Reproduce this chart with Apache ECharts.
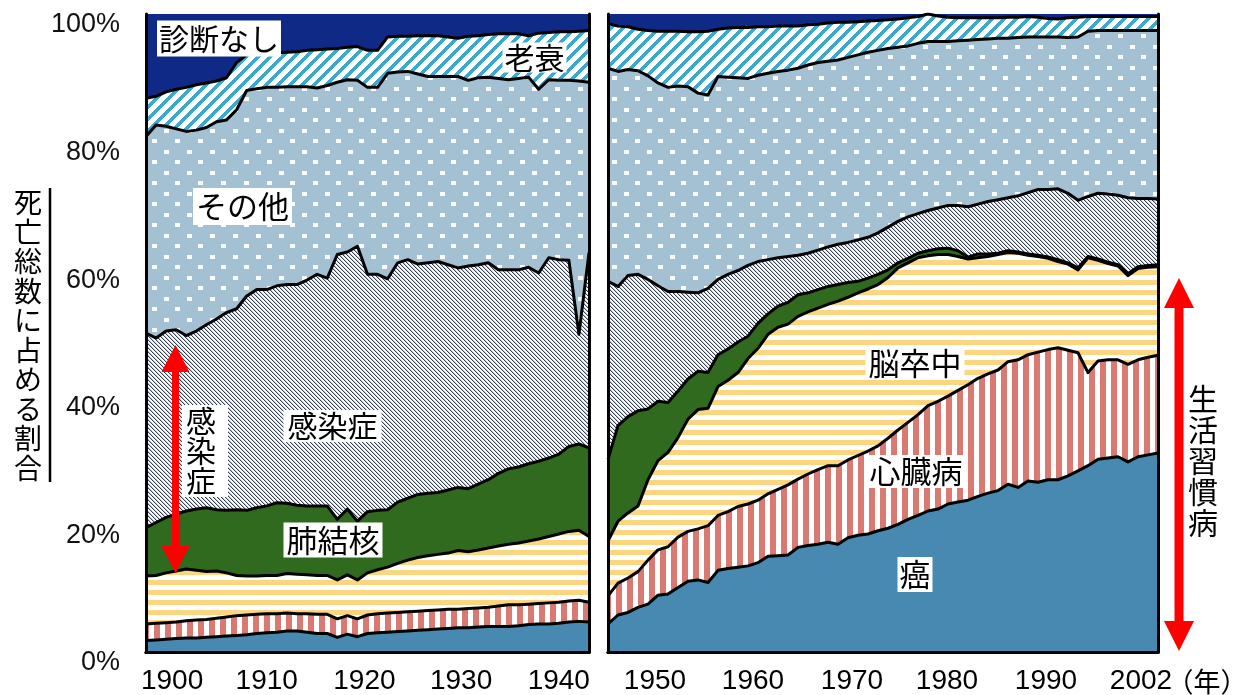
<!DOCTYPE html>
<html><head><meta charset="utf-8">
<script src="https://cdn.jsdelivr.net/npm/echarts@6/dist/echarts.min.js"></script>
<style>html,body{margin:0;padding:0;background:#fff}#c{width:1241px;height:695px}</style>
</head><body><div id="c"></div>
<script>
// ---- data: cumulative upper edge of each band (% of all deaths) ----
const leftYears = [1899,1900,1901,1902,1903,1904,1905,1906,1907,1908,1909,1910,1911,1912,1913,1914,1915,1916,1917,1918,1919,1920,1921,1922,1923,1924,1925,1926,1927,1928,1929,1930,1931,1932,1933,1934,1935,1936,1937,1938,1939,1940,1941,1942,1943];
const rightYears = [1947,1948,1949,1950,1951,1952,1953,1954,1955,1956,1957,1958,1959,1960,1961,1962,1963,1964,1965,1966,1967,1968,1969,1970,1971,1972,1973,1974,1975,1976,1977,1978,1979,1980,1981,1982,1983,1984,1985,1986,1987,1988,1989,1990,1991,1992,1993,1994,1995,1996,1997,1998,1999,2000,2001,2002];

const leftCancer = [1.8,1.9,2.0,2.1,2.2, 2.2,2.3,2.4,2.5,2.6, 2.7,2.9,3.0,3.1,3.3, 3.3,3.1,2.9,2.9,2.3, 2.8,2.4,2.9,3.0,3.1, 3.2,3.3,3.4,3.5,3.6, 3.7,3.8,3.8,3.9,4.0, 4.0,4.0,4.1,4.3,4.4, 4.4,4.5,4.7,4.8,4.7];
const leftHeart = [4.4,4.5,4.6,4.7,4.9, 5.0,5.1,5.3,5.5,5.7, 5.8,5.9,6.0,6.0,6.1, 6.0,6.0,5.9,5.9,5.2, 5.7,5.2,5.8,6.0,6.1, 6.2,6.3,6.4,6.5,6.6, 6.7,6.7,6.8,6.9,7.0, 7.2,7.4,7.4,7.5,7.6, 7.7,7.8,8.0,8.1,7.8];
const leftStroke = [11.9,12.0,12.4,12.7,13.0, 12.8,12.6,12.7,12.4,12.0, 11.9,11.9,12.0,12.0,12.3, 12.2,12.1,12.0,12.0,11.3, 12.1,11.3,12.4,12.9,13.3, 13.9,14.4,14.8,15.1,15.3, 15.5,15.9,15.7,16.0,16.3, 16.6,16.9,17.1,17.4,17.7, 18.1,18.5,18.9,19.1,18.1];
const leftTB = [19.5,20.3,21.1,21.6,22.1, 22.4,22.6,22.3,22.2,22.3, 22.2,22.6,22.9,23.4,23.3, 23.0,22.9,22.9,22.9,20.8, 22.4,20.5,22.0,22.2,22.3, 23.5,24.1,24.7,24.9,25.0, 25.4,25.8,25.6,26.3,27.0, 28.0,28.7,29.0,29.5,29.9, 30.4,31.0,32.2,32.6,32.0];
const leftInfect = [50.0,49.2,50.3,50.5,49.6, 50.3,51.3,52.2,53.2,53.8, 55.8,56.8,56.8,57.4,57.6, 57.6,58.3,59.2,58.6,62.3, 62.7,63.6,59.2,59.2,58.5, 61.0,61.5,60.8,61.0,61.2, 60.7,60.2,60.5,60.7,61.0, 59.9,59.9,59.9,60.3,59.4, 61.8,61.5,61.4,49.8,62.6];
const leftOther = [80.8,82.6,82.4,82.0,81.6, 81.8,82.2,83.1,83.4,85.0, 88.0,88.3,88.5,88.5,88.6, 88.6,88.6,88.4,88.8,89.3, 89.7,89.6,88.5,88.5,90.7, 90.9,91.0,90.6,90.2,90.2, 90.2,90.2,89.6,90.0,90.1, 89.9,89.7,89.9,90.1,88.2, 89.7,89.6,89.6,89.5,89.3];
const leftSenility = [86.8,87.1,87.8,88.2,88.5, 88.9,89.2,89.5,90.0,92.4, 93.6,93.8,93.9,93.9,94.0, 94.1,94.3,94.4,94.5,94.6, 94.8,94.9,94.3,94.3,96.4, 96.5,96.5,96.6,96.6,96.6, 96.4,96.2,96.5,96.6,96.8, 96.9,96.9,96.9,96.6,97.0, 97.1,97.2,97.2,97.3,97.4];

const rightCancer = [4.4,5.8,6.2,7.0,7.5, 8.9,9.1,10.1,11.1,11.3, 10.9,12.8,13.1,13.3,13.5, 14.0,15.0,15.1,15.2,16.4, 16.7,16.9,17.2,16.9,17.9, 18.3,18.5,19.0,19.4,20.0, 20.8,21.4,22.1,22.4,23.2, 23.5,23.8,24.4,24.9,25.3, 26.3,25.8,26.8,26.6,27.0, 27.0,27.6,28.4,29.2,30.2, 30.4,30.6,29.8,30.6,30.9, 31.2];
const rightHeart = [8.8,10.8,11.6,12.6,14.4, 16.0,16.5,18.0,18.9,19.3, 19.8,21.4,22.0,22.8,23.2, 23.8,24.8,25.5,26.2,27.1, 27.9,28.6,29.2,29.2,30.1, 30.8,31.5,32.3,33.5,34.8, 36.0,37.2,38.6,39.3,40.1, 41.0,41.9,42.9,43.6,44.2, 45.5,45.8,46.6,47.0,47.4, 47.7,47.3,46.9,43.8,45.6, 45.8,45.8,45.1,45.8,46.2, 46.5];
const rightStroke = [17.4,20.5,21.8,22.9,27.0, 30.0,31.3,33.6,36.5,38.0, 38.2,41.6,42.6,43.8,46.0, 47.6,49.8,50.9,51.4,52.6, 53.3,53.9,54.5,55.0,55.6, 56.3,56.9,57.6,58.7,60.2, 61.0,61.8,62.1,62.3,62.3, 62.0,61.6,61.8,62.0,62.3, 62.6,62.5,62.2,62.0,61.7, 61.2,60.8,59.9,61.8,61.4, 60.9,60.5,59.0,60.1,60.3, 60.4];
const rightTB = [30.2,35.5,36.9,37.8,38.1, 39.3,39.1,40.9,42.8,44.0, 43.8,46.6,47.5,48.6,49.5, 51.5,53.0,54.2,54.8,56.0, 56.3,56.8,57.3,57.6,57.9, 58.1,58.6,59.2,59.9,61.0, 61.7,62.5,62.9,63.2,63.3, 62.9,61.9,62.4,62.4,62.5, 62.9,62.7,62.4,62.2,61.9, 61.5,61.0,60.2,62.0,61.6, 61.1,60.7,59.3,60.4,60.6, 60.7];
const rightInfect = [58.1,57.3,59.0,59.2,58.4, 57.4,56.5,56.5,56.4,56.3, 57.0,58.4,59.2,59.8,60.6, 61.2,61.5,61.8,62.0,62.2, 62.5,63.0,63.5,63.9,64.2, 64.6,65.0,65.7,66.6,67.5, 68.2,68.7,69.2,69.6,70.0, 70.0,69.8,70.2,70.6,70.9, 71.2,71.5,72.0,72.5,72.5, 72.6,71.9,70.8,71.4,71.9, 71.8,71.6,71.2,71.1,71.1, 71.0];
const rightOther = [91.5,91.0,91.3,91.1,90.3, 89.2,88.5,88.7,88.6,87.6, 87.3,90.2,90.1,90.0,89.9, 90.4,90.7,91.0,91.2,91.5, 92.0,92.4,92.6,92.8,93.2, 93.6,94.0,94.3,94.6,94.8, 95.0,95.4,95.7,95.7,95.7, 95.8,95.9,96.0,96.1,96.2, 96.2,96.3,96.4,96.4,96.4, 96.4,96.3,96.4,97.3,97.4, 97.4,97.4,97.4,97.4,97.4, 97.4];
const rightSenility = [98.5,98.1,98.0,97.6,97.4, 97.3,97.3,97.3,97.2,97.2, 97.3,97.6,97.8,97.9,97.9, 98.0,98.0,98.1,98.1,98.1, 98.3,98.4,98.6,98.7,98.7, 98.8,98.9,99.0,99.1,99.2, 99.4,99.6,100,99.7,99.5, 99.4,99.4,99.4,99.4,99.4, 99.5,99.5,99.6,99.5,99.3, 99.2,99.4,99.5,99.6,99.6, 99.6,99.6,99.6,99.6,99.6, 99.6];

const leftTicks = [1900,1910,1920,1930,1940];
const rightTicks = [1950,1960,1970,1980,1990,2002];
const yTicks = [0,20,40,60,80,100];

// ---- patterns ----
function tile(w, h, fn) {
  const c = document.createElement('canvas'); c.width = w; c.height = h;
  const g = c.getContext('2d'); fn(g, w, h);
  return { image: c, repeat: 'repeat' };
}
const NAVY = '#0f2a86';
const fills = {
  senility: tile(12, 12, (g, w, h) => {
    g.fillStyle = '#fff'; g.fillRect(0, 0, w, h); g.fillStyle = '#3fa8cc';
    for (let y = 0; y < h; y++) for (let x = 0; x < w; x++) if ((x + y) % 12 < 5) g.fillRect(x, y, 1, 1);
  }),
  other: tile(23, 21, (g, w, h) => {
    g.fillStyle = '#a3c1d3'; g.fillRect(0, 0, w, h); g.fillStyle = '#fbfcfd';
    g.fillRect(3, 3, 5, 4); g.fillRect(14, 13, 5, 4);
  }),
  infect: tile(4, 4, (g, w, h) => {
    g.fillStyle = '#fff'; g.fillRect(0, 0, w, h);
    for (let y = 0; y < h; y++) for (let x = 0; x < w; x++) {
      const d = ((x - y) % 4 + 4) % 4;
      if (d === 0) { g.fillStyle = '#34405a'; g.fillRect(x, y, 1, 1); }
      else if (d === 1) { g.fillStyle = '#c4cad4'; g.fillRect(x, y, 1, 1); }
    }
  }),
  tb: '#2f6a1f',
  stroke: tile(4, 10, (g, w, h) => { g.fillStyle = '#fff'; g.fillRect(0, 0, w, h); g.fillStyle = '#fbd57f'; g.fillRect(0, 0, w, 5); }),
  heart: tile(11, 4, (g, w, h) => { g.fillStyle = '#fff'; g.fillRect(0, 0, w, h); g.fillStyle = '#d97a72'; g.fillRect(0, 0, 6, h); }),
  cancer: '#4789b0'
};

const bandDefs = [
  ['老衰', 'senility'], ['その他', 'other'], ['感染症', 'infect'], ['肺結核', 'tb'],
  ['脳卒中', 'stroke'], ['心臓病', 'heart'], ['癌', 'cancer']
];
const leftData = { senility: leftSenility, other: leftOther, infect: leftInfect, tb: leftTB, stroke: leftStroke, heart: leftHeart, cancer: leftCancer };
const rightData = { senility: rightSenility, other: rightOther, infect: rightInfect, tb: rightTB, stroke: rightStroke, heart: rightHeart, cancer: rightCancer };

function makeSeries(years, dataMap, axisIdx) {
  return bandDefs.map(([name, key], k) => ({
    type: 'line', name, xAxisIndex: axisIdx, yAxisIndex: axisIdx,
    data: years.map((y, i) => [y, dataMap[key][i]]),
    symbol: 'none', silent: true, z: 2 + k,
    lineStyle: { color: '#000', width: 3, join: 'round' },
    areaStyle: { color: fills[key], opacity: 1 }
  }));
}

// label shifts (styling only)
const xShift = { 1900: 16, 1910: 10, 1920: 7, 1930: 3, 1940: 0, 1950: 17, 1960: 15, 1970: 14, 1980: 9, 1990: 8, 2002: -17 };
const xRich = {};
Object.values(xShift).forEach(s => {
  const key = s >= 0 ? 'p' + s : 'n' + (-s);
  xRich[key] = { fontSize: 28, fontFamily: 'Liberation Sans, Arial', color: '#000',
    padding: s >= 0 ? [0, 0, 0, 2 * s] : [0, -2 * s, 0, 0] };
});
function xLabel(ticks) {
  return {
    show: true, customValues: ticks, margin: 15,
    fontSize: 28, fontFamily: 'Liberation Sans, Arial', color: '#000',
    formatter: v => { const s = xShift[v] || 0; return '{' + (s >= 0 ? 'p' + s : 'n' + (-s)) + '|' + v + '}'; },
    rich: xRich
  };
}
const frame = { show: true, lineStyle: { color: '#000', width: 3 } };
function xAx(grid, min, max, pos, ticks) {
  return { gridIndex: grid, type: 'value', min, max, position: pos, z: 50,
    axisLine: frame, axisTick: { show: false }, splitLine: { show: false },
    axisLabel: ticks ? xLabel(ticks) : { show: false } };
}
function yAx(grid, pos, labels) {
  return { gridIndex: grid, type: 'value', min: 0, max: 100, interval: 20, position: pos, z: 50,
    axisLine: frame, axisTick: { show: false }, splitLine: { show: false },
    axisLabel: labels ? { show: true, customValues: yTicks, formatter: '{value}%', fontSize: 27,
      fontFamily: 'Liberation Sans, Arial', color: '#111', margin: 26, verticalAlign: 'top', lineHeight: 22 } : { show: false } };
}

const JP = '"Noto Sans CJK JP", "Noto Sans CJK SC", sans-serif';
function boxLabel(text, x, y, size, padding, extra) {
  return { type: 'text', x, y, z: 100, silent: true,
    style: Object.assign({ text, font: size + 'px ' + JP, fill: '#000', align: 'center', verticalAlign: 'middle',
      backgroundColor: '#fff', padding }, extra || {}) };
}
function arrow(cx, top, bottom, headH, headW, shaft) {
  const hw = headW / 2, sw = shaft / 2;
  return { type: 'polygon', z: 90, silent: true,
    shape: { points: [[cx, top], [cx + hw, top + headH], [cx + sw, top + headH], [cx + sw, bottom - headH], [cx + hw, bottom - headH],
      [cx, bottom], [cx - hw, bottom - headH], [cx - sw, bottom - headH], [cx - sw, top + headH], [cx - hw, top + headH]] },
    style: { fill: '#ff0000' } };
}

const chart = echarts.init(document.getElementById('c'), null, { renderer: 'canvas' });
chart.setOption({
  animation: false,
  backgroundColor: '#fff',
  grid: [
    { left: 146, top: 14, width: 443, height: 639, show: true, backgroundColor: NAVY, borderWidth: 0 },
    { left: 608, top: 14, width: 550, height: 639, show: true, backgroundColor: NAVY, borderWidth: 0 }
  ],
  xAxis: [
    xAx(0, 1899, 1943, 'bottom', leftTicks), xAx(1, 1947, 2002, 'bottom', rightTicks),
    xAx(0, 1899, 1943, 'top', null), xAx(1, 1947, 2002, 'top', null)
  ],
  yAxis: [
    yAx(0, 'left', true), yAx(1, 'left', false),
    yAx(0, 'right', false), yAx(1, 'right', false)
  ],
  series: [...makeSeries(leftYears, leftData, 0), ...makeSeries(rightYears, rightData, 1)],
  graphic: [
    boxLabel('診断なし', 219, 38.5, 30, [3, 2]),
    boxLabel('老衰', 534.5, 57.5, 30, [0, 2]),
    boxLabel('その他', 242.5, 206.5, 31, [3, 3]),
    boxLabel('感染症', 332.5, 426, 30, [1, 4]),
    boxLabel('感\n染\n症', 205, 451, 30, [1, 12, 1, 4], { lineHeight: 30 }),
    boxLabel('肺結核', 333, 540, 31, [2, 3]),
    boxLabel('脳卒中', 915, 363.5, 31, [1, 3]),
    boxLabel('心臓病', 916, 471.5, 31, [1, 3]),
    boxLabel('癌', 915, 574.5, 31, [2, 2]),
    { type: 'text', x: 1203, y: 383, z: 100, silent: true,
      style: { text: '生\n活\n習\n慣\n病', font: '30px ' + JP, fill: '#000', align: 'center', verticalAlign: 'top', lineHeight: 31 } },
    { type: 'text', x: 28, y: 188, z: 100, silent: true,
      style: { text: '死\n亡\n総\n数\nに\n占\nめ\nる\n割\n合', font: '28px ' + JP, fill: '#000', align: 'center', verticalAlign: 'top', lineHeight: 29.5 } },
    { type: 'line', z: 100, silent: true, shape: { x1: 50, y1: 188, x2: 50, y2: 482 }, style: { stroke: '#000', lineWidth: 2.5 } },
    { type: 'text', x: 1207, y: 682, z: 100, silent: true,
      style: { text: '（年）', font: '27px ' + JP, fill: '#000', align: 'center', verticalAlign: 'middle' } },
    arrow(175.5, 345, 573, 27, 28, 7),
    arrow(1179, 278, 651, 30, 30, 9)
  ]
});
</script></body></html>
